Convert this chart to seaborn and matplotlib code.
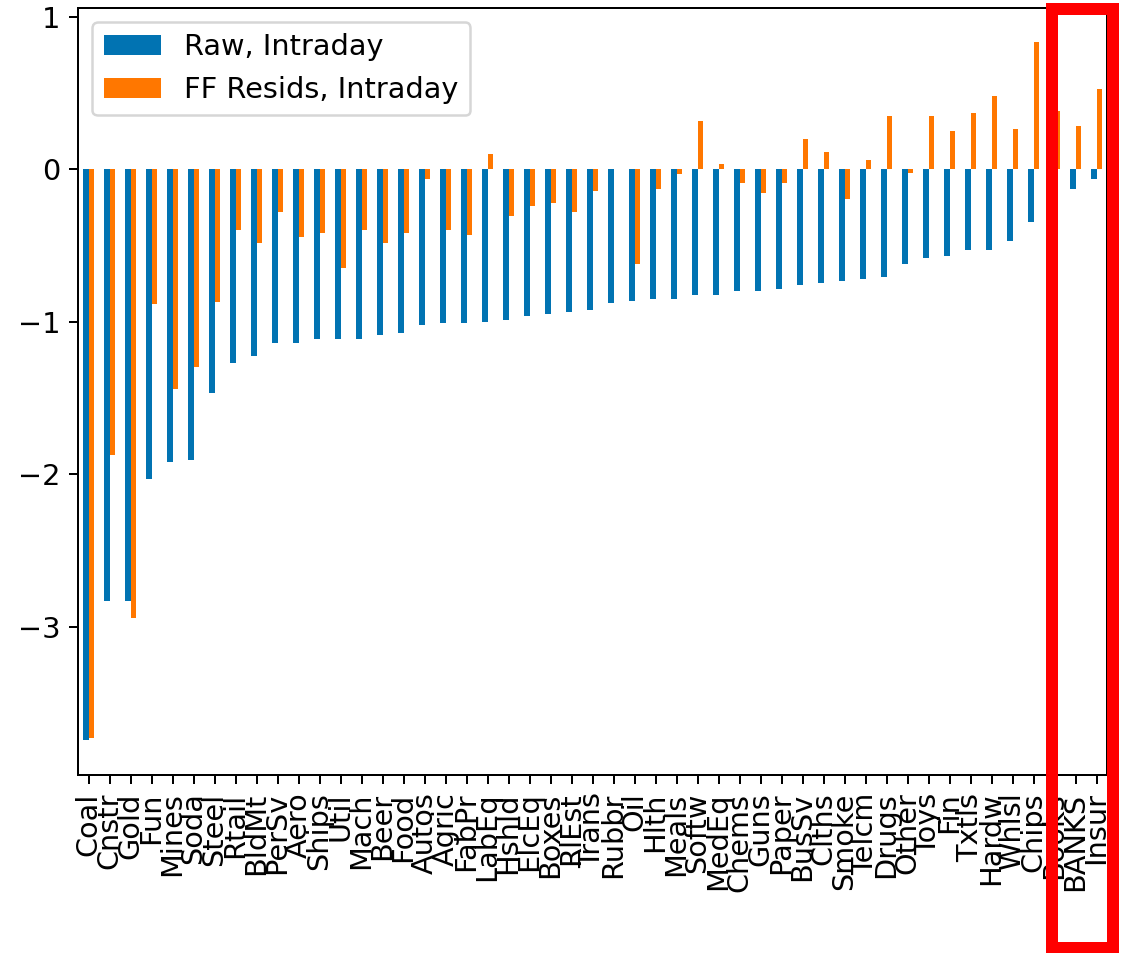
import matplotlib
matplotlib.use("Agg")
import matplotlib.pyplot as plt
from matplotlib.patches import Rectangle
import seaborn as sns
import pandas as pd

industries = ["Coal", "Cnstr", "Gold", "Fun", "Mines", "Soda", "Steel", "Rtail", "BldMt", "PerSv",
              "Aero", "Ships", "Util", "Mach", "Beer", "Food", "Autos", "Agric", "FabPr", "LabEq",
              "Hshld", "ElcEq", "Boxes", "RlEst", "Trans", "Rubbr", "Oil", "Hlth", "Meals", "Softw",
              "MedEq", "Chems", "Guns", "Paper", "BusSv", "Clths", "Smoke", "Telcm", "Drugs", "Other",
              "Toys", "Fin", "Txtls", "Hardw", "Whlsl", "Chips", "Books", "BANKS", "Insur"]

raw_intraday = [-3.745, -2.832, -2.832, -2.030, -1.921, -1.905, -1.471, -1.273, -1.223, -1.142,
                -1.142, -1.116, -1.116, -1.116, -1.087, -1.074, -1.019, -1.006, -1.006, -1.004,
                -0.988, -0.964, -0.951, -0.935, -0.922, -0.880, -0.867, -0.854, -0.854, -0.826,
                -0.826, -0.800, -0.800, -0.784, -0.760, -0.744, -0.731, -0.718, -0.705, -0.624,
                -0.582, -0.569, -0.527, -0.527, -0.472, -0.347, -0.200, -0.132, -0.061]

ff_resids_intraday = [-3.730, -1.877, -2.941, -0.883, -1.445, -1.296, -0.872, -0.402, -0.487, -0.279,
                      -0.446, -0.417, -0.650, -0.402, -0.487, -0.417, -0.061, -0.402, -0.430, 0.103,
                      -0.307, -0.241, -0.224, -0.281, -0.143, 0.000, -0.621, -0.127, -0.033, 0.318,
                      0.033, -0.088, -0.158, -0.088, 0.198, 0.114, -0.198, 0.059, 0.347, -0.024,
                      0.347, 0.252, 0.367, 0.483, 0.267, 0.832, 0.384, 0.281, 0.527]

series_names = ["Raw, Intraday", "FF Resids, Intraday"]
colors = ["#0173b2", "#ff7700"]

df = pd.DataFrame({
    "industry": industries * 2,
    "value": raw_intraday + ff_resids_intraday,
    "series": [series_names[0]] * len(industries) + [series_names[1]] * len(industries),
})

plt.rcParams["font.size"] = 11.5

W, H, DPI = 1130, 953, 180
fig = plt.figure(figsize=(W / DPI, H / DPI), dpi=DPI)
ax = fig.add_axes([78 / W, 1 - 775 / H, (1107 - 78) / W, (775 - 7.5) / H])

sns.barplot(data=df, x="industry", y="value", hue="series", order=industries,
            hue_order=series_names, palette=colors, saturation=1, width=0.5, linewidth=0,
            errorbar=None, ax=ax)

ax.set_xlabel("")
ax.set_ylabel("")
ax.set_xlim(-0.5, len(industries) - 0.5)
ax.margins(y=0.05)
ax.autoscale(axis="y")
ax.set_yticks([-3, -2, -1, 0, 1])
ax.tick_params(axis="x", rotation=90)
for s in ax.spines.values():
    s.set_visible(True)
    s.set_color("black")
sns.move_legend(ax, "upper left", title=None)

# red highlight frame around the last columns
fig.add_artist(Rectangle((1052 / W, 1 - 947.5 / H), (1113 - 1052) / W, (947.5 - 9) / H,
                         transform=fig.transFigure, fill=False, edgecolor="#ff0000",
                         linewidth=12 * 72 / DPI, clip_on=False))

fig.savefig("out.png", dpi=DPI)
